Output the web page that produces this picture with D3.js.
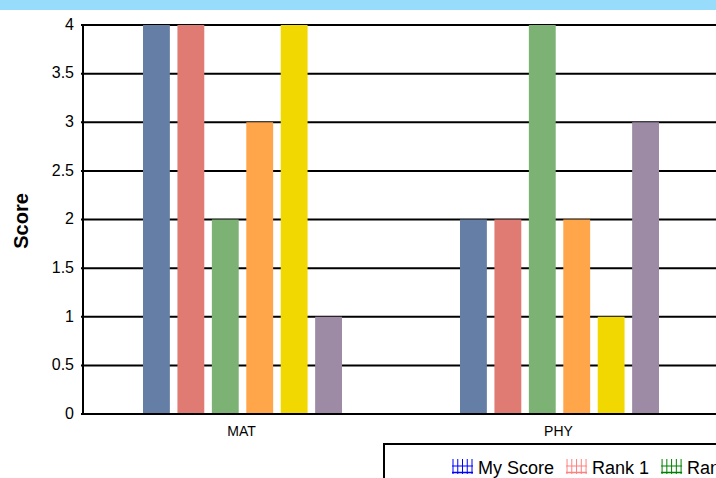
<!DOCTYPE html>
<html>
<head>
<meta charset="utf-8">
<script src="https://cdn.jsdelivr.net/npm/d3@7"></script>
<style>
  html, body { margin: 0; padding: 0; background: #fff; overflow: hidden; }
  text { font-family: Arial, "Liberation Sans", sans-serif; }
</style>
</head>
<body>
<svg id="chart" width="716" height="478"></svg>
<script>
const categories = ["MAT", "PHY"];
const seriesNames = ["My Score", "Rank 1", "Rank 2", "Rank 3", "Rank 4", "Rank 5"];
const matScores = [4, 4, 2, 3, 4, 1];
const phyScores = [2, 2, 4, 2, 1, 3];
const yTicks = [0, 0.5, 1, 1.5, 2, 2.5, 3, 3.5, 4];
const barColors = ["#657ea6", "#e07b74", "#7cb274", "#ffa64a", "#f0d800", "#9d8aa5"];
const legendColors = ["#0000ff", "#ff8080", "#008000", "#ff8000", "#c0c000", "#800080"];

const values = [matScores, phyScores];

const svg = d3.select("#chart");
const plotLeft = 83, plotTop = 25, plotBottom = 414, plotRight = 717;

// title band (mostly scrolled off)
svg.append("rect")
  .attr("x", 0).attr("y", 0)
  .attr("width", 716).attr("height", 10)
  .attr("fill", "#97dcfb");

const x0 = d3.scaleBand().domain(categories).range([plotLeft, plotRight]);
const x1 = d3.scaleBand().domain(d3.range(seriesNames.length))
  .range([60, 259]).paddingInner(0.22);
const y = d3.scaleLinear().domain([0, 4]).range([plotBottom, plotTop]);

// grid
svg.append("g")
  .selectAll("line")
  .data(yTicks)
  .join("line")
  .attr("x1", plotLeft - 2)
  .attr("x2", plotRight)
  .attr("y1", d => y(d))
  .attr("y2", d => y(d))
  .attr("stroke", "#000")
  .attr("stroke-width", 2);

// y labels
svg.append("g")
  .selectAll("text")
  .data(yTicks)
  .join("text")
  .attr("x", 74)
  .attr("y", d => y(d))
  .attr("dy", "0.3em")
  .attr("text-anchor", "end")
  .style("font-size", "16px")
  .text(d => d);

// bars
const groups = svg.append("g")
  .selectAll("g")
  .data(categories)
  .join("g")
  .attr("transform", d => `translate(${x0(d)},0)`);

groups.selectAll("rect")
  .data((d, i) => values[i].map((v, j) => ({ v, j })))
  .join("rect")
  .attr("x", d => x1(d.j))
  .attr("width", x1.bandwidth())
  .attr("y", d => y(d.v))
  .attr("height", d => y(0) - y(d.v))
  .attr("fill", d => barColors[d.j]);

// axis lines
svg.append("line")
  .attr("x1", plotLeft).attr("x2", plotLeft)
  .attr("y1", plotTop - 1).attr("y2", plotBottom + 1)
  .attr("stroke", "#000").attr("stroke-width", 2);
svg.append("line")
  .attr("x1", plotLeft).attr("x2", plotRight)
  .attr("y1", plotBottom).attr("y2", plotBottom)
  .attr("stroke", "#000").attr("stroke-width", 2);

// x labels
svg.append("g")
  .selectAll("text")
  .data(categories)
  .join("text")
  .attr("x", d => x0(d) + x0.bandwidth() / 2)
  .attr("y", 436)
  .attr("text-anchor", "middle")
  .style("font-size", "14px")
  .text(d => d);

// y title
svg.append("text")
  .attr("transform", "translate(28,221) rotate(-90)")
  .attr("text-anchor", "middle")
  .style("font-size", "20px")
  .style("font-weight", "bold")
  .text("Score");

// legend
svg.append("rect")
  .attr("x", 384).attr("y", 444)
  .attr("width", 400).attr("height", 60)
  .attr("fill", "none")
  .attr("stroke", "#000")
  .attr("stroke-width", 2);

const legend = svg.append("g");
let lx = 452;
seriesNames.forEach((name, i) => {
  const g = legend.append("g").attr("transform", `translate(${lx},459)`);
  const c = legendColors[i];
  d3.range(5).forEach(k => {
    g.append("line")
      .attr("x1", 1 + k * 4.75).attr("x2", 1 + k * 4.75)
      .attr("y1", 0).attr("y2", 15)
      .attr("stroke", c).attr("stroke-width", 1);
  });
  g.append("line").attr("x1", 0).attr("x2", 21).attr("y1", 7).attr("y2", 7)
    .attr("stroke", c).attr("stroke-width", 1);
  g.append("line").attr("x1", 0).attr("x2", 21).attr("y1", 13.5).attr("y2", 13.5)
    .attr("stroke", c).attr("stroke-width", 1.5);
  const t = g.append("text")
    .attr("x", 26).attr("y", 15)
    .style("font-size", "18px")
    .text(name);
  lx += 26 + t.node().getComputedTextLength() + 12;
});
</script>
</body>
</html>
